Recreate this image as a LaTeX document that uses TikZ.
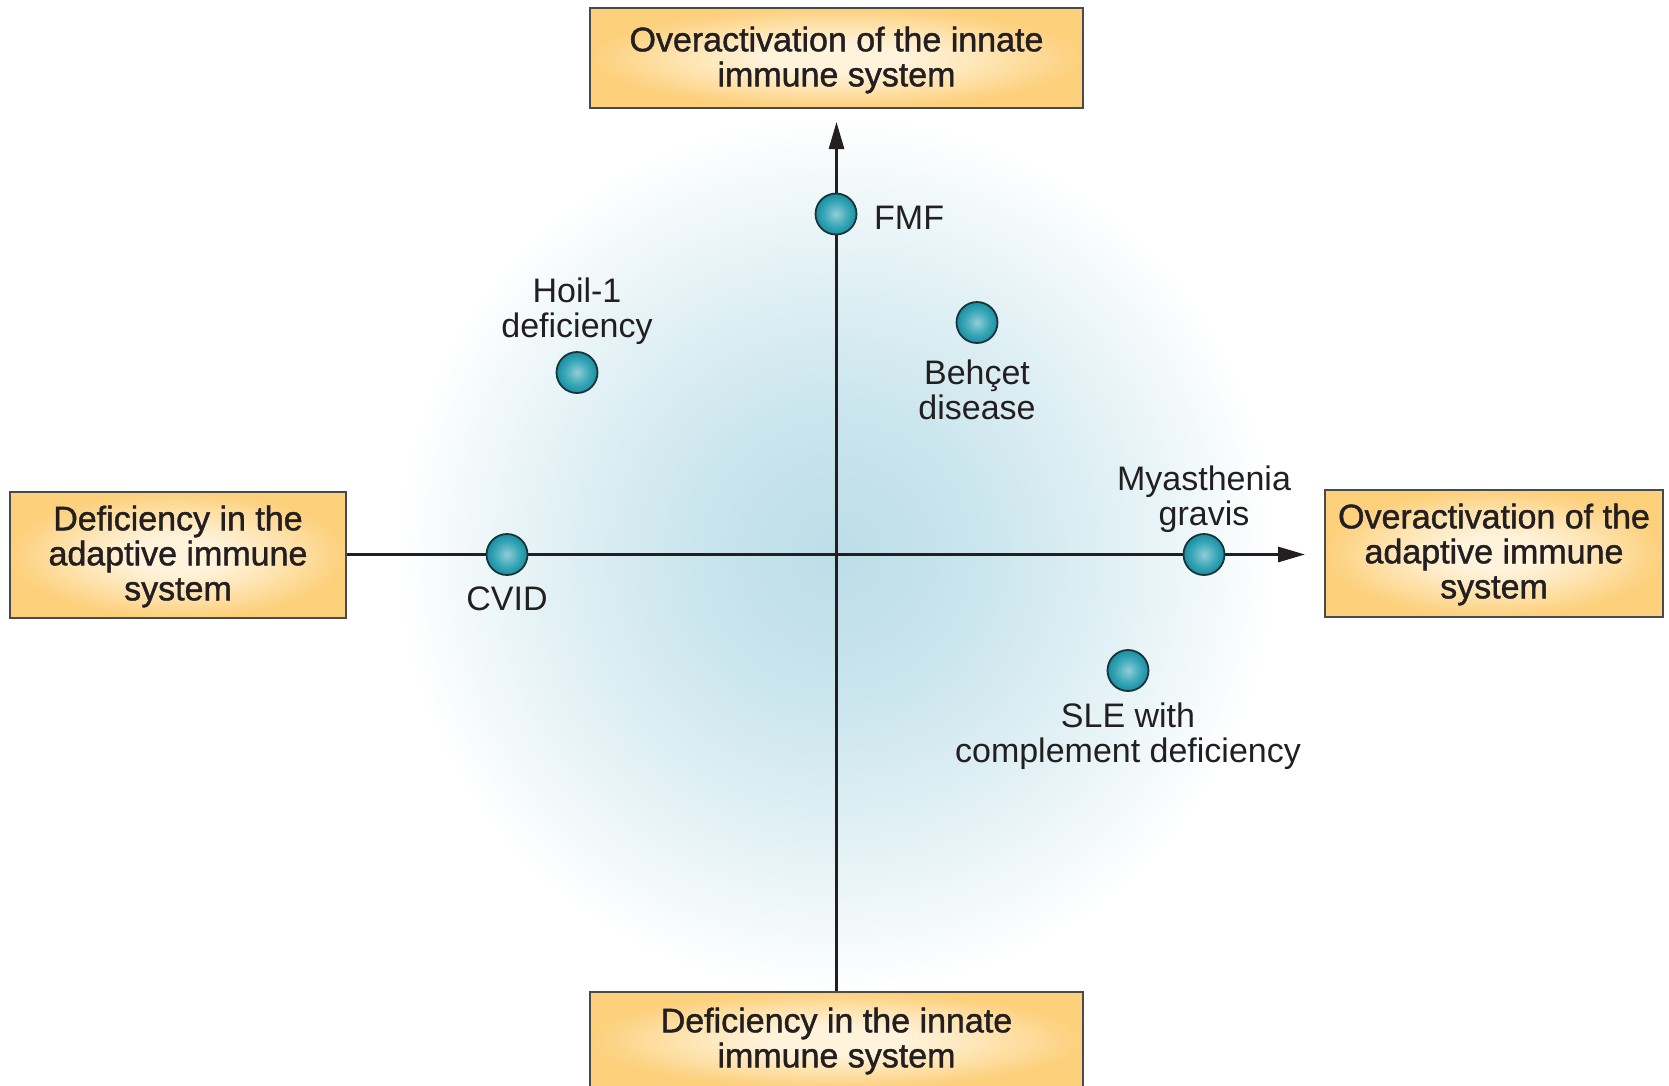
\documentclass[tikz,border=0pt]{standalone}
\usepackage{fontspec}
\setmainfont{Liberation Sans}
\newfontfamily\boxfont[FakeBold=1.3]{Liberation Sans}
\usetikzlibrary{arrows.meta}
\definecolor{txt}{HTML}{231F20}
\definecolor{glowA}{HTML}{BCDDE8}
\definecolor{glowB}{HTML}{CAE5ED}
\definecolor{glowC}{HTML}{E4F2F6}
\definecolor{boxin}{HTML}{FFF3DC}
\definecolor{boxmid}{HTML}{FEE3AE}
\definecolor{boxout}{HTML}{FDD07C}
\definecolor{boxline}{HTML}{4A4A4A}
\definecolor{dotin}{HTML}{92CDD7}
\definecolor{dotmid}{HTML}{3AA7B7}
\definecolor{dotout}{HTML}{168FA2}
\definecolor{dotline}{HTML}{1B3338}
\pgfdeclareradialshading{glowshade}{\pgfpoint{0bp}{0bp}}{color(0bp)=(glowA); color(8bp)=(glowB); color(17bp)=(glowC); color(25bp)=(white); color(50bp)=(white)}
\pgfdeclareradialshading{boxshade}{\pgfpoint{0bp}{0bp}}{color(0bp)=(boxin); color(7bp)=(boxin); color(16bp)=(boxmid); color(25bp)=(boxout); color(50bp)=(boxout)}
\pgfdeclareradialshading{dotshade}{\pgfpoint{0bp}{0bp}}{color(0bp)=(dotin); color(15bp)=(dotmid); color(25bp)=(dotout); color(50bp)=(dotout)}
\tikzset{
  catbox/.style={draw=boxline, line width=1.8pt, shading=boxshade, rectangle, inner sep=0pt},
  boxtxt/.style={inner sep=0pt, align=center, text=txt, font=\boxfont\fontsize{34}{35}\selectfont},
  disease/.style={circle, draw=dotline, line width=1.8pt, shading=dotshade, minimum size=41pt, inner sep=0pt},
  lab/.style={align=center, text=txt, font=\fontsize{34}{35}\selectfont, inner sep=0pt},
  axis/.style={line width=2.8pt, draw=txt}
}
\begin{document}
\begin{tikzpicture}[x=1pt,y=-1pt]
\useasboundingbox (0,0) rectangle (1669,1085);
\fill[white] (0,0) rectangle (1669,1085);
\shade[shading=glowshade] (836.5,554.5) circle[radius=440];
% boxes
\node[catbox, minimum width=493pt, minimum height=100pt] (top) at (836.5,58) {};
\node[catbox, minimum width=336pt, minimum height=126pt] (left) at (178,555) {};
\node[catbox, minimum width=338pt, minimum height=127pt] (right) at (1494,553.5) {};
\node[catbox, minimum width=493pt, minimum height=96pt] (bottom) at (836.5,1040) {};
\node[boxtxt] (topt) at (836.5,60) {Overactivation of the innate\\immune system};
\node[boxtxt] (leftt) at (178,556.5) {Deficiency in the\\adaptive immune\\system};
\node[boxtxt] (rightt) at (1494,554.5) {Overactivation of the\\adaptive immune\\system};
\node[boxtxt] (bottomt) at (836.5,1041) {Deficiency in the innate\\immune system};
% axes
\coordinate (xtip) at (1305,554.5);
\coordinate (ytip) at (836.5,122);
\coordinate (origin) at (836.5,554.5);
\draw[axis, -{Triangle[length=27pt,width=15pt]}] (left.east |- origin) -- (xtip);
\draw[axis, -{Triangle[length=27pt,width=15pt]}] (bottom.north) -- (ytip);
% dots
\node[disease] (fmf) at (836,214) {};
\node[disease] (beh) at (977,322.5) {};
\node[disease] (hoil) at (577,372.5) {};
\node[disease] (cvid) at (507,554.5) {};
\node[disease] (mya) at (1204,554.5) {};
\node[disease] (sle) at (1128,670.5) {};
% labels
\node[lab, anchor=west] (fmfl) at (874,218) {FMF};
\node[lab] (behl) at (977,390) {Behçet\\disease};
\node[lab] (hoill) at (577,311) {Hoil-1\\deficiency};
\node[lab] (cvidl) at (507,599) {CVID};
\node[lab] (myal) at (1204,499) {Myasthenia\\gravis};
\node[lab] (slel) at (1128,736) {SLE with\\complement deficiency};
\end{tikzpicture}
\end{document}
